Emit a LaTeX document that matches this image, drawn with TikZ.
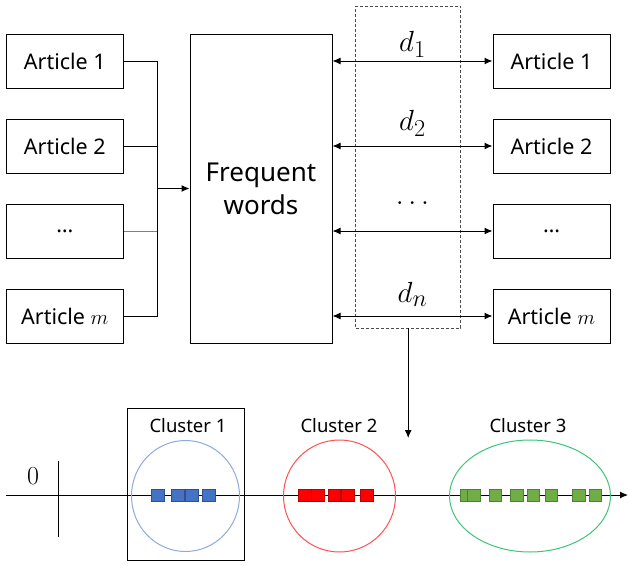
\documentclass[tikz,border=0pt]{standalone}
\usepackage{fontspec}
\usepackage{tikz}
\usetikzlibrary{arrows.meta,shapes.geometric,positioning}
\newfontfamily\boxfont{Noto Sans}
\definecolor{sqblue}{HTML}{4472C4}
\definecolor{sqblueline}{HTML}{2F528F}
\definecolor{ringblue}{HTML}{8FAADC}
\definecolor{sqred}{HTML}{FF0000}
\definecolor{sqredline}{HTML}{C00000}
\definecolor{ringred}{HTML}{FF5050}
\definecolor{sqgreen}{HTML}{70AD47}
\definecolor{sqgreenline}{HTML}{507E32}
\definecolor{ringgreen}{HTML}{3CC47C}

\begin{document}
\begin{tikzpicture}[x=1pt,y=-1pt,>={Latex[length=8pt,width=7pt]},node distance=85pt,line width=1pt]
  \tikzstyle{article}=[draw=black,minimum width=117pt,minimum height=54pt,inner sep=0pt,
                       font=\boxfont\fontsize{21.5}{26}\selectfont]
  \tikzstyle{dist}=[font=\fontsize{24.88}{28}\selectfont,scale=1.17]
  \tikzstyle{clabel}=[font=\boxfont\fontsize{18.5}{22}\selectfont]
  \tikzstyle{sq}=[draw,minimum size=12.5pt,inner sep=0pt,line width=0.6pt]
  \useasboundingbox (0,0) rectangle (629,565);

  % articles on the left
  \node[article] (A1) at (64.8,61) {Article 1};
  \node[article] (A2) [below of=A1] {Article 2};
  \node[article] (A3) [below of=A2] {\dots};
  \node[article] (A4) [below of=A3] {Article $m$};

  % frequent words
  \node[draw=black,minimum width=142pt,minimum height=309pt,align=center,
        font=\boxfont\fontsize{26}{33}\selectfont] (FW) at (261,188.5) {Frequent\\words};

  % articles on the right
  \node[article] (B1) at (551.5,61) {Article 1};
  \node[article] (B2) [below of=B1] {Article 2};
  \node[article] (B3) [below of=B2] {\dots};
  \node[article] (B4) [below of=B3] {Article $m$};

  % bus to the frequent words
  \coordinate (busTop) at (157,61);
  \coordinate (busBot) at (157,316);
  \draw (A1.east) -- (busTop) -- (busBot) -- (A4.east);
  \draw (A2.east) -- (A2.east -| busTop);
  \draw[gray] (A3.east) -- (A3.east -| busTop);
  \draw[->] (busTop |- FW.west) -- (FW.west);

  % distances
  \node[draw=black!70,dash pattern=on 3pt off 2pt,line width=0.8pt,
        minimum width=105pt,minimum height=322pt] (D) at (408.2,167) {};
  \draw[<->] (FW.east |- B1) -- node[dist,above=-1pt] {$d_1$} (B1.west);
  \draw[<->] (FW.east |- B2) -- node[dist,above=5pt] {$d_2$} (B2.west);
  \draw[<->] (FW.east |- B3) -- node[dist,above=22pt] {$\dots$} (B3.west);
  \draw[<->] (FW.east |- B4) -- node[dist,above=5pt] {$d_n$} (B4.west);
  \coordinate (downEnd) at (408.2,438);
  \draw[->] (D.south) -- (downEnd);

  % number line
  \coordinate (axStart) at (6,495);
  \coordinate (axEnd) at (628,495);
  \draw[->] (axStart) -- (axEnd);
  \coordinate (tickTop) at (58.5,461);
  \coordinate (tickBot) at (58.5,537);
  \draw (tickTop) -- (tickBot);
  \node[font=\fontsize{26}{28}\selectfont] (zero) at (33,476) {0};

  % clusters
  \node[draw=black,minimum width=117pt,minimum height=152pt] (frame) at (185.5,484.5) {};
  \node[draw=ringblue,ellipse,minimum width=108pt,minimum height=111pt] (C1) at (185.5,496) {};
  \node[draw=ringred,ellipse,minimum width=112pt,minimum height=112pt] (C2) at (339.5,496) {};
  \node[draw=ringgreen,ellipse,minimum width=161pt,minimum height=112pt] (C3) at (530,496) {};
  \node[clabel] (L1) at (188,426) {Cluster 1};
  \node[clabel] (L2) at (339,426) {Cluster 2};
  \node[clabel] (L3) at (528,426) {Cluster 3};

  \foreach \x [count=\i] in {158,177.7,192,209}
    \node[sq,fill=sqblue,draw=sqblueline] (b\i) at (\x,495.5) {};
  \foreach \x [count=\i] in {305,318,334.5,348,367}
    \node[sq,fill=sqred,draw=sqredline] (r\i) at (\x,495.5) {};
  \foreach \x [count=\i] in {466.3,473.8,495.2,516.7,533.3,551.2,579,595.5}
    \node[sq,fill=sqgreen,draw=sqgreenline] (g\i) at (\x,495.5) {};
\end{tikzpicture}
\end{document}
